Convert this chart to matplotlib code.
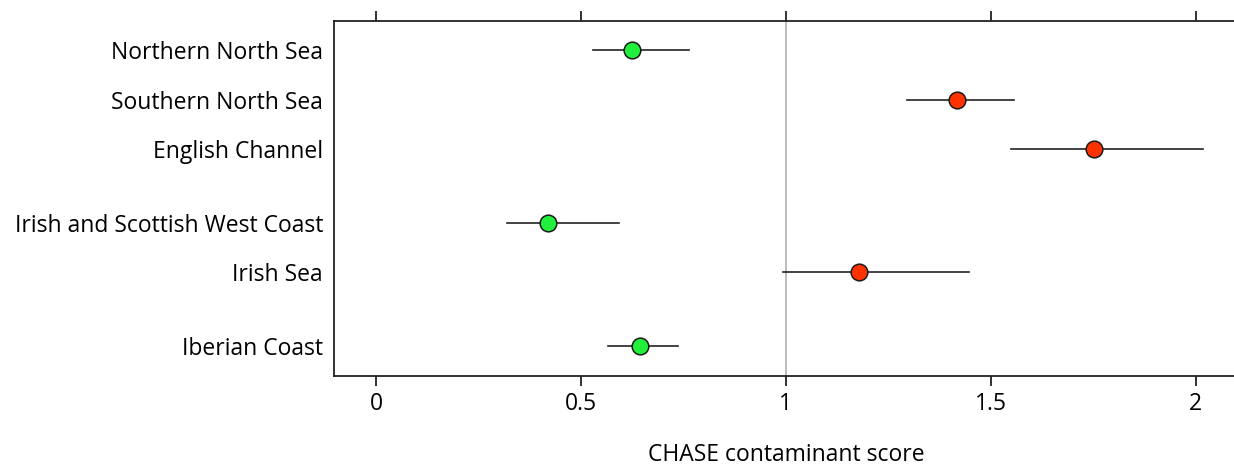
import matplotlib.pyplot as plt

plt.rcParams['font.family'] = ['Open Sans', 'DejaVu Sans']

regions = ['Northern North Sea', 'Southern North Sea', 'English Channel',
           'Irish and Scottish West Coast', 'Irish Sea', 'Iberian Coast']
ypos = [0, 1, 2, 3.5, 4.5, 6]
score = [0.624, 1.417, 1.752, 0.419, 1.178, 0.643]
low = [0.529, 1.296, 1.549, 0.319, 0.994, 0.567]
high = [0.763, 1.556, 2.017, 0.592, 1.447, 0.736]
colors = ['#22ee3c', '#ff3300', '#ff3300', '#22ee3c', '#ff3300', '#22ee3c']

W, H = 1234, 466
fig = plt.figure(figsize=(W / 100, H / 100), dpi=100)
ax = fig.add_axes([334 / W, 1 - 375.7 / H, (W - 334) / W, (375.7 - 20.7) / H])

ax.axvline(1, color='#bdbdbd', lw=1.5, zorder=1)
for y, s, lo, hi, c in zip(ypos, score, low, high, colors):
    ax.plot([lo, hi], [y, y], color='#222222', lw=1.2, zorder=2)
    ax.plot(s, y, 'o', ms=12, mfc=c, mec='#1a1a1a', mew=1.1, zorder=3)

ax.set_xlim((334 - 376) / 409.9, (W - 376) / 409.9)
ax.set_ylim(6.6, -0.6)
ax.set_xticks([0, 0.5, 1, 1.5, 2])
ax.set_xticklabels(['0', '0.5', '1', '1.5', '2'])
ax.set_yticks(ypos)
ax.set_yticklabels(regions)
ax.tick_params(axis='y', length=0, pad=8, labelsize=16.5)
ax.tick_params(axis='x', direction='out', length=7, width=1.3, pad=5,
               labelsize=16.5, top=True, color='#222222')
ax.spines['right'].set_visible(False)
for s in ['left', 'top', 'bottom']:
    ax.spines[s].set_linewidth(1.3)
    ax.spines[s].set_color('#222222')

fig.text(786 / W, 1 - 455 / H, 'CHASE contaminant score', ha='center',
         va='center', fontsize=16.5)

fig.savefig('out.png', dpi=100)
